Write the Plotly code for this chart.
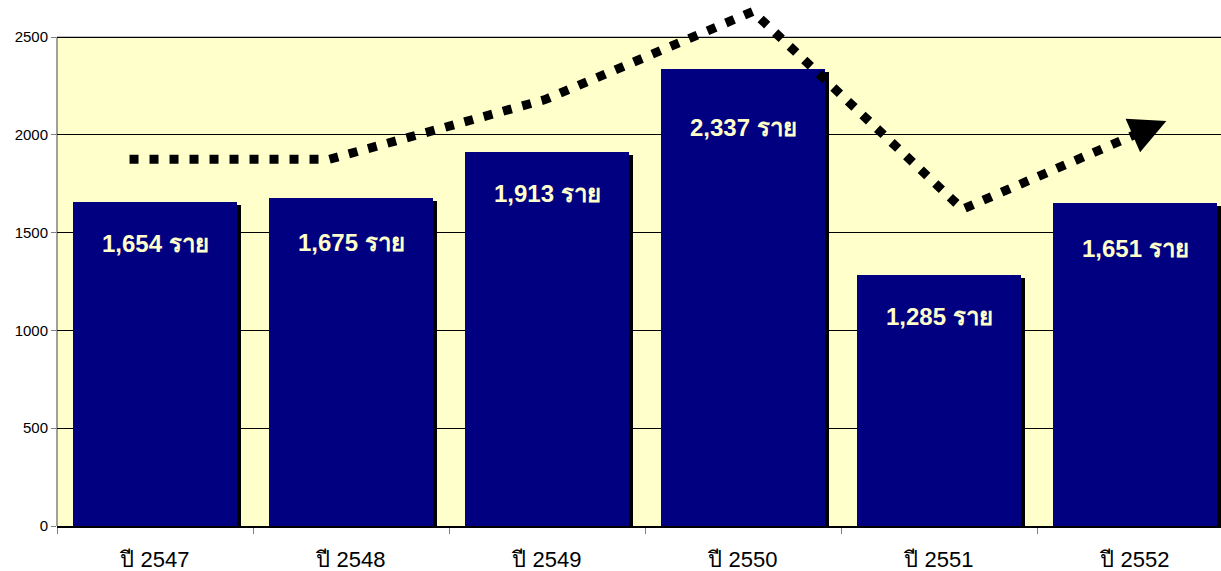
import plotly.graph_objects as go

# ---- data ----
years = ["ปี 2547", "ปี 2548", "ปี 2549", "ปี 2550", "ปี 2551", "ปี 2552"]
cases = [1654, 1675, 1913, 2337, 1285, 1651]
unit = "ราย"
# trend arrow (category position, value)
trend_pos = [-0.13, 0.89, 1.99, 3.05, 4.12, 5.16]
trend_val = [1875, 1875, 2180, 2630, 1620, 2070]
y_ticks = [0, 500, 1000, 1500, 2000, 2500]

# ---- layout constants ----
W, H = 1221, 571
ML, MB = 57, 45
plot_h = H - MB
cat_px = 196.0
y_top = 2500
y_max = y_top * plot_h / (plot_h - 37)
px_per_val = plot_h / y_max
x_lo = -0.5
x_hi = x_lo + (W - ML) / cat_px
bar_w = 0.832
shadow_dx = 4 / cat_px
shadow_dy = 3 / px_per_val
label_shift = [-41, -44, -42, -59, -42, -45]

xs = list(range(len(years)))
fig = go.Figure()

# shadow bars
fig.add_trace(go.Bar(
    x=[x + shadow_dx for x in xs], y=[v - shadow_dy for v in cases],
    width=bar_w, marker=dict(color="black", line=dict(width=0)),
    hoverinfo="skip", showlegend=False))
# main bars
fig.add_trace(go.Bar(
    x=xs, y=cases, width=bar_w,
    marker=dict(color="#000080", line=dict(width=0)),
    showlegend=False))

# dotted trend line
fig.add_trace(go.Scatter(
    x=trend_pos, y=trend_val, mode="lines",
    line=dict(color="black", width=9, dash="9px,11px"),
    hoverinfo="skip", showlegend=False))

# arrow head on the last segment
dxp = (trend_pos[-1] - trend_pos[-2]) * cat_px
dyp = (trend_val[-1] - trend_val[-2]) * px_per_val
seg_len = (dxp ** 2 + dyp ** 2) ** 0.5
frac = 30 / seg_len
ax = trend_pos[-1] - frac * (trend_pos[-1] - trend_pos[-2])
ay = trend_val[-1] - frac * (trend_val[-1] - trend_val[-2])
fig.add_annotation(x=trend_pos[-1], y=trend_val[-1], ax=ax, ay=ay,
                   xref="x", yref="y", axref="x", ayref="y", text="",
                   showarrow=True, arrowhead=2, arrowsize=7.3, arrowwidth=1,
                   arrowcolor="black")

# value labels
for x, v, s in zip(xs, cases, label_shift):
    fig.add_annotation(x=x, y=v, yshift=s, text=f"{v:,} {unit}", showarrow=False,
                       xref="x", yref="y",
                       font=dict(family="Arial, Liberation Sans, sans-serif", size=24,
                                 color="#FFFFCC", weight="bold"))

# plot area background and borders
fig.add_shape(type="rect", xref="paper", yref="y", x0=0, x1=1, y0=0, y1=y_top,
              fillcolor="#FFFFCC", line=dict(width=0), layer="below")
fig.add_shape(type="line", xref="paper", yref="y", x0=0, x1=1, y0=y_top, y1=y_top,
              line=dict(color="#808080", width=1), layer="between")
fig.add_shape(type="line", xref="paper", yref="y", x0=0, x1=0, y0=0, y1=y_top,
              line=dict(color="#808080", width=1.5), layer="between")

fig.update_layout(
    width=W, height=H,
    margin=dict(l=ML, r=0, t=0, b=MB, pad=0),
    paper_bgcolor="white", plot_bgcolor="white",
    barmode="overlay", bargap=0,
    font=dict(family="Arial, Liberation Sans, sans-serif", color="black"),
)
fig.update_xaxes(
    range=[x_lo, x_hi], tickvals=xs, ticktext=years, ticks="",
    tickfont=dict(size=22, color="black"), ticklabelstandoff=13,
    showgrid=False, zeroline=False, automargin=False,
    showline=True, linecolor="black", linewidth=2,
    minor=dict(tick0=0.5, dtick=1, ticks="outside", ticklen=6,
               tickcolor="#808080", tickwidth=1, showgrid=False),
)
fig.update_yaxes(
    range=[0, y_max], tickvals=y_ticks, ticktext=[str(t) for t in y_ticks],
    ticks="outside", ticklen=5, tickcolor="#808080", tickwidth=1,
    tickfont=dict(size=15, color="black"), automargin=False,
    showgrid=True, gridcolor="black", gridwidth=1,
    zeroline=False, showline=False,
)

fig.write_html("out.html", config={"displayModeBar": False},
               post_script="document.body.style.margin='0';document.body.style.overflow='hidden';")
